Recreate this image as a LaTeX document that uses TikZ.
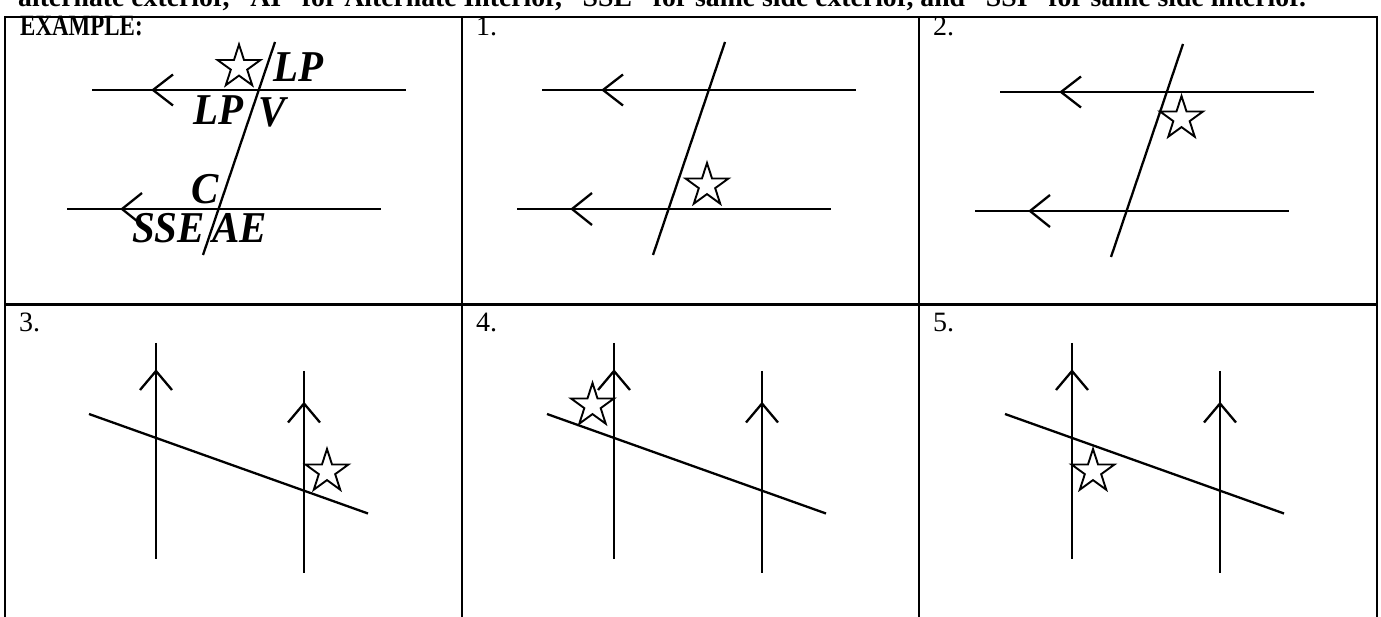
\documentclass[tikz,border=0pt]{standalone}
\usepackage{fontspec}
\setmainfont{Liberation Serif}
\usetikzlibrary{shapes.geometric}
\begin{document}
\begin{tikzpicture}[x=1pt,y=-1pt,
  ln/.style={line width=2.3pt},
  gridline/.style={line width=2.6pt},
  starmark/.style={star, star points=5, star point ratio=2.618, minimum size=45pt,
    inner sep=0pt, draw, fill=white, line width=1.9pt},
  lbl/.style={anchor=base west, inner sep=0pt,
    font=\fontsize{44}{50}\selectfont\bfseries\itshape},
  num/.style={anchor=base west, inner sep=0pt, font=\fontsize{28}{32}\selectfont},
  head/.style={anchor=base west, inner sep=0pt, font=\fontsize{28}{32}\selectfont\bfseries},
]
\useasboundingbox (0,0) rectangle (1381,617);
\clip (0,0) rectangle (1381,617);

% cut-off instruction line
\node[head] (intro) at (18,7) {\scalebox{0.99}[1]{alternate exterior, ``AI'' for Alternate Interior, ``SSE'' for same side exterior, and ``SSI'' for same side interior.}};

% table grid
\draw[gridline] (5,630) -- (5,17) -- (1377,17) -- (1377,630);
\draw[gridline] (5,304.5) -- (1377,304.5);
\draw[gridline] (462,17) -- (462,630);
\draw[gridline] (919,17) -- (919,630);

% cell titles
\node[head] (ex) at (20,36) {\scalebox{0.82}[1.05]{EXAMPLE:}};
\node[num] (n1) at (476,36) {1.};
\node[num] (n2) at (933,36) {2.};
\node[num] (n3) at (19,332) {3.};
\node[num] (n4) at (476,332) {4.};
\node[num] (n5) at (933,332) {5.};

% top row: two horizontal parallels cut by a transversal
\foreach \dx/\dy in {0/0, 450/0, 908/2}{
  \begin{scope}[xshift=\dx, yshift=-\dy]
    \draw[ln] (92,90) -- (406,90);
    \draw[ln] (173,74.5) -- (153,90) -- (173,105.5);
    \draw[ln] (67,209) -- (381,209);
    \draw[ln] (142,193) -- (122,209) -- (142,225);
    \draw[ln] (275,42) -- (203,255);
  \end{scope}
}

% bottom row: two vertical parallels cut by a transversal
\foreach \dx in {0, 458, 916}{
  \begin{scope}[xshift=\dx]
    \draw[ln] (156,343) -- (156,559);
    \draw[ln] (140,390) -- (156,371) -- (172,390);
    \draw[ln] (304,371) -- (304,573);
    \draw[ln] (288,422.5) -- (304,403.5) -- (320,422.5);
    \draw[ln] (89,414) -- (368,513.5);
  \end{scope}
}

% stars
\node[starmark] (s0) at (239,67) {};
\node[starmark] (s1) at (707,185.5) {};
\node[starmark] (s2) at (1181.5,118.5) {};
\node[starmark] (s3) at (327,471.5) {};
\node[starmark] (s4) at (592.5,405.5) {};
\node[starmark] (s5) at (1093,471.5) {};

% example labels
\node[lbl] (l1) at (273,82) {\scalebox{0.93}[1]{LP}};
\node[lbl] (l2) at (193,125) {\scalebox{0.93}[1]{LP}};
\node[lbl] (l3) at (258,126.5) {\scalebox{0.93}[1]{V}};
\node[lbl] (l4) at (191,204) {\scalebox{0.93}[1]{C}};
\node[lbl] (l5) at (132,243) {\scalebox{0.93}[1]{SSE}};
\node[lbl] (l6) at (212,243) {\scalebox{0.93}[1]{AE}};
\end{tikzpicture}
\end{document}
